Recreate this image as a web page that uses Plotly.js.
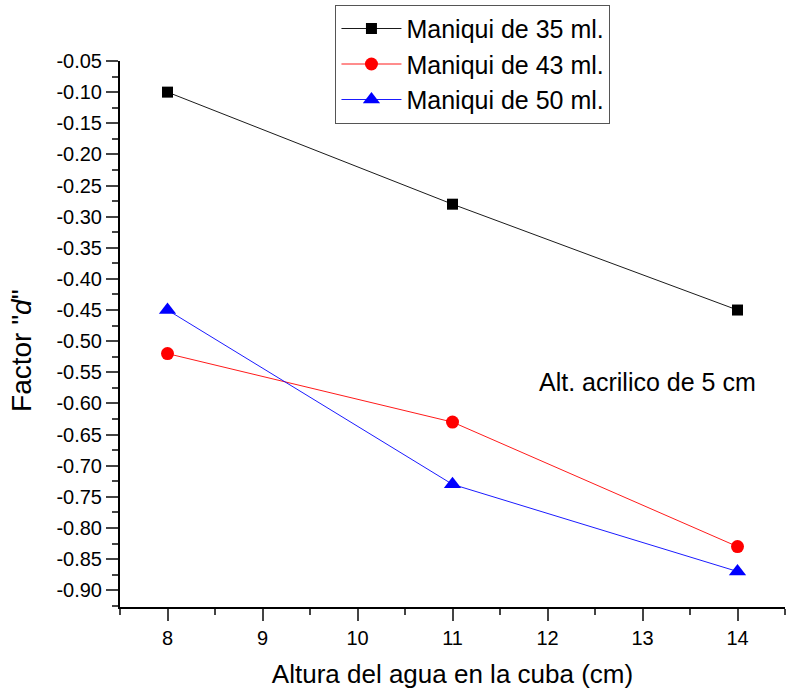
<!DOCTYPE html>
<html><head><meta charset="utf-8">
<script src="https://cdn.plot.ly/plotly-3.0.1.min.js"></script>
<style>body{margin:0;background:#fff}#c{width:787px;height:693px}</style>
</head><body><div id="c"></div>
<script>
const xHeight = [8, 11, 14];
const s35 = [-0.10, -0.28, -0.45];
const s43 = [-0.52, -0.63, -0.83];
const s50 = [-0.45, -0.73, -0.87];
const names = ['Maniqui de 35 ml.', 'Maniqui de 43 ml.', 'Maniqui de 50 ml.'];
const yTickVals = [-0.90,-0.85,-0.80,-0.75,-0.70,-0.65,-0.60,-0.55,-0.50,-0.45,-0.40,-0.35,-0.30,-0.25,-0.20,-0.15,-0.10,-0.05];
const yTickText = yTickVals.map(v => v.toFixed(2));
const xTickVals = [8, 9, 10, 11, 12, 13, 14];

const F = 'Liberation Sans, Arial, sans-serif';
const traces = [
  {x: xHeight, y: s35, name: names[0], mode: 'lines+markers',
   line: {color: '#000000', width: 0.9}, marker: {symbol: 'square', size: 11, color: '#000000'}},
  {x: xHeight, y: s43, name: names[1], mode: 'lines+markers',
   line: {color: '#ff0000', width: 0.9}, marker: {symbol: 'circle', size: 13, color: '#ff0000'}},
  {x: xHeight, y: s50, name: names[2], mode: 'lines+markers',
   line: {color: '#0000ff', width: 0.9}, marker: {symbol: 'triangle-up', size: 15, color: '#0000ff'}}
];
const layout = {
  width: 787, height: 693,
  margin: {l: 120, r: 2, t: 61, b: 86},
  paper_bgcolor: '#fff', plot_bgcolor: '#fff',
  font: {family: F, color: '#000'},
  showlegend: true,
  legend: {x: 0.324, xanchor: 'left', y: 1.103, yanchor: 'top',
           bordercolor: '#555', borderwidth: 1, bgcolor: '#fff',
           font: {size: 25, family: F}, tracegroupgap: 0, itemwidth: 60},
  xaxis: {range: [7.5, 14.5], showline: true, linewidth: 2, linecolor: '#000',
          showgrid: false, zeroline: false, ticks: 'outside', ticklen: 12, tickwidth: 2,
          tickvals: xTickVals, tickfont: {size: 20},
          minor: {ticks: 'outside', ticklen: 6, tickwidth: 2, dtick: 0.5, tick0: 7.5, showgrid: false},
          title: {text: 'Altura del agua en la cuba (cm)', font: {size: 26}, standoff: 17}},
  yaxis: {range: [-0.927, -0.05], showline: true, linewidth: 2, linecolor: '#000',
          showgrid: false, zeroline: false, ticks: 'outside', ticklen: 12, tickwidth: 2,
          tickvals: yTickVals, ticktext: yTickText, tickfont: {size: 20},
          minor: {ticks: 'outside', ticklen: 6, tickwidth: 2, dtick: 0.025, tick0: -0.05, showgrid: false}},
  annotations: [
    {text: 'Alt. acrilico de 5 cm', xref: 'x', yref: 'y', x: 13.05, y: -0.565,
     showarrow: false, font: {size: 25, family: F}},
    {text: 'Factor "<i>d</i>"', xref: 'paper', yref: 'paper', x: -0.148, y: 0.47,
     xanchor: 'center', yanchor: 'middle', textangle: -90, showarrow: false, font: {size: 28, family: F}}
  ]
};
Plotly.newPlot('c', traces, layout, {displayModeBar: false, staticPlot: true});
</script></body></html>
